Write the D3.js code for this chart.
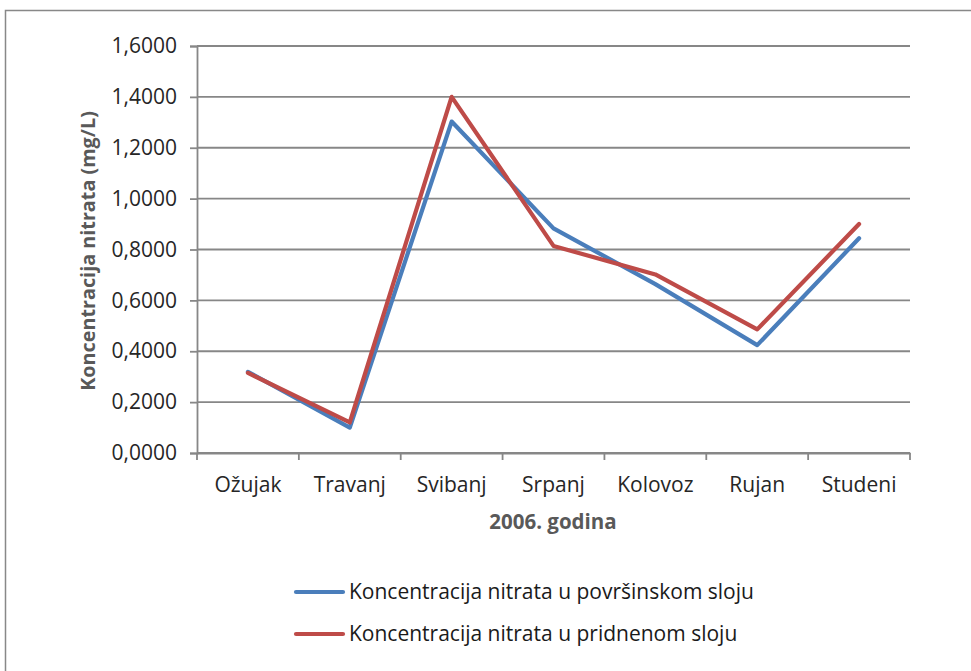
<!DOCTYPE html>
<html><head><meta charset="utf-8">
<script src="https://cdn.jsdelivr.net/npm/d3@7"></script>
<style>body{margin:0;background:#fff;}svg{display:block;font-family:"Open Sans",sans-serif;}</style>
</head><body><svg id="c" width="971" height="671"></svg>
<script>
const categories = ["Ožujak","Travanj","Svibanj","Srpanj","Kolovoz","Rujan","Studeni"];
const surfaceValues = [0.319, 0.100, 1.303, 0.883, 0.664, 0.424, 0.844];
const bottomValues = [0.315, 0.120, 1.400, 0.814, 0.702, 0.486, 0.900];
const yTicks = [0,0.2,0.4,0.6,0.8,1.0,1.2,1.4,1.6];
const seriesNames = ["Koncentracija nitrata u površinskom sloju","Koncentracija nitrata u pridnenom sloju"];
const colors = ["#4a7ebb","#be4b48"];

const FONT = '"Open Sans",sans-serif';
const svg = d3.select("#c");
svg.append("rect").attr("x",5.5).attr("y",10.5).attr("width",980).attr("height",700)
  .attr("fill","none").attr("stroke","#888").attr("stroke-width",1.5);

const L=197,R=910,T=46,B=453;
const x = d3.scaleBand().domain(categories).range([L,R]);
const y = d3.scaleLinear().domain([0,1.6]).range([B,T]);

svg.append("g").selectAll("line").data(yTicks).join("line")
  .attr("x1",L).attr("x2",R).attr("y1",d=>y(d)).attr("y2",d=>y(d))
  .attr("stroke","#878787").attr("stroke-width",1.8);

const fmt = d=>d.toFixed(4).replace(".",",");
const yAxis = svg.append("g").attr("transform",`translate(${L},0)`)
  .call(d3.axisLeft(y).tickValues(yTicks).tickFormat(fmt).tickSize(7).tickPadding(13));
yAxis.select(".domain").attr("stroke","#878787").attr("stroke-width",1.8);
yAxis.selectAll(".tick line").attr("stroke","#878787").attr("stroke-width",1.8);
yAxis.selectAll("text").attr("font-size",21).attr("fill","#262626").attr("font-family",FONT);

const xAxis = svg.append("g").attr("transform",`translate(0,${B})`)
  .call(d3.axisBottom(x).tickSize(0).tickPadding(0));
xAxis.select(".domain").attr("stroke","#878787").attr("stroke-width",1.8);
xAxis.selectAll("text").attr("dy",null).attr("y",39).attr("font-size",21).attr("fill","#262626").attr("font-family",FONT);
const bounds = categories.map(c=>x(c)).concat([R]);
svg.append("g").selectAll("line").data(bounds).join("line")
  .attr("x1",d=>d).attr("x2",d=>d).attr("y1",B).attr("y2",B+7)
  .attr("stroke","#878787").attr("stroke-width",1.8);

const line = d3.line().x((d,i)=>x(categories[i])+x.bandwidth()/2).y(d=>y(d));
[surfaceValues,bottomValues].forEach((vals,i)=>{
  svg.append("path").datum(vals).attr("d",line).attr("fill","none")
    .attr("stroke",colors[i]).attr("stroke-width",4.2).attr("stroke-linejoin","round").attr("stroke-linecap","round");
});

svg.append("text").attr("transform",`translate(95,251) rotate(-90)`)
  .attr("text-anchor","middle").attr("font-size",19.8).attr("font-weight","bold").attr("fill","#595959")
  .attr("font-family",FONT).text("Koncentracija nitrata (mg/L)");
svg.append("text").attr("x",553).attr("y",529).attr("text-anchor","middle")
  .attr("font-size",20.5).attr("font-weight","bold").attr("fill","#595959").attr("font-family",FONT).text("2006. godina");

const leg = svg.append("g");
seriesNames.forEach((n,i)=>{
  const yy = 592 + i*42;
  leg.append("line").attr("x1",296).attr("x2",343).attr("y1",yy).attr("y2",yy)
    .attr("stroke",colors[i]).attr("stroke-width",4.2).attr("stroke-linecap","round");
  leg.append("text").attr("x",349).attr("y",yy+7).attr("font-size",21).attr("fill","#1a1a1a")
    .attr("font-family",FONT).text(n);
});
</script></body></html>
